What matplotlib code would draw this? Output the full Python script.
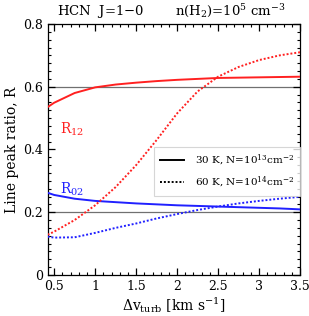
import numpy as np
import matplotlib
matplotlib.use('Agg')
import matplotlib.pyplot as plt
from matplotlib.ticker import MultipleLocator

# turbulent width grid, km/s
dv = [0.42, 0.5, 0.75, 1.0, 1.25, 1.5, 1.75, 2.0, 2.25, 2.5, 2.75, 3.0, 3.25, 3.5]

# 30 K, N=1e13 (solid)
r12_30 = [0.535, 0.549, 0.580, 0.598, 0.607, 0.613, 0.618, 0.622, 0.625, 0.628, 0.629, 0.630, 0.631, 0.632]
r02_30 = [0.262, 0.255, 0.243, 0.236, 0.232, 0.228, 0.225, 0.222, 0.220, 0.218, 0.216, 0.214, 0.212, 0.209]

# 60 K, N=1e14 (dotted)
r12_60 = [0.128, 0.138, 0.175, 0.222, 0.280, 0.350, 0.430, 0.515, 0.585, 0.632, 0.663, 0.685, 0.700, 0.710]
r02_60 = [0.122, 0.119, 0.120, 0.134, 0.150, 0.164, 0.180, 0.194, 0.207, 0.218, 0.228, 0.236, 0.243, 0.249]

ref_lines = [0.6, 0.2]


def main():
    plt.rcParams['font.family'] = ['DejaVu Serif']
    plt.rcParams['mathtext.fontset'] = 'dejavuserif'
    fig = plt.figure(figsize=(3.09, 3.16), dpi=100)
    ax = fig.add_axes([0.154, 0.130, 0.817, 0.794])

    for y in ref_lines:
        ax.axhline(y, color='#707070', lw=0.9, zorder=1)

    ax.plot(dv, r12_30, color='#ff2020', lw=1.4, zorder=3)
    ax.plot(dv, r02_30, color='#2020ff', lw=1.4, zorder=3)
    ax.plot(dv, r12_60, color='#ff2020', lw=1.4, ls=(0, (1, 1)), zorder=3)
    ax.plot(dv, r02_60, color='#2020ff', lw=1.4, ls=(0, (1, 1)), zorder=3)

    # legend
    l1, = ax.plot([], [], color='black', lw=1.4)
    l2, = ax.plot([], [], color='black', lw=1.4, ls=(0, (1, 1)))
    leg = ax.legend([l1, l2], [r'30 K, N=10$^{13}$cm$^{-2}$', r'60 K, N=10$^{14}$cm$^{-2}$'],
                    loc='upper right', bbox_to_anchor=(1.0, 0.51), fontsize=7.5,
                    frameon=True, fancybox=False, handlelength=2.3, handletextpad=1.0,
                    borderpad=0.6, labelspacing=0.6, borderaxespad=0.0)
    leg.get_frame().set_edgecolor('#cccccc')
    leg.get_frame().set_linewidth(0.8)

    ax.text(0.57, 0.45, r'R$_{12}$', color='#ff2020', fontsize=10)
    ax.text(0.57, 0.258, r'R$_{02}$', color='#2020ff', fontsize=10)

    ax.set_xlim(0.42, 3.5)
    ax.set_ylim(0, 0.8)
    ax.xaxis.set_major_locator(MultipleLocator(0.5))
    ax.xaxis.set_minor_locator(MultipleLocator(0.1))
    ax.yaxis.set_major_locator(MultipleLocator(0.2))
    ax.yaxis.set_minor_locator(MultipleLocator(0.025))
    ax.set_xticks([0.5, 1, 1.5, 2, 2.5, 3, 3.5])
    ax.set_xticklabels(['0.5', '1', '1.5', '2', '2.5', '3', '3.5'])
    ax.set_yticks([0, 0.2, 0.4, 0.6, 0.8])
    ax.set_yticklabels(['0', '0.2', '0.4', '0.6', '0.8'])
    ax.tick_params(which='both', direction='in', top=True, right=True, labelsize=9)
    ax.tick_params(which='major', length=5, width=0.9)
    ax.tick_params(which='minor', length=2.5, width=0.8)
    for s in ax.spines.values():
        s.set_linewidth(0.9)

    ax.set_xlabel(r'$\Delta$v$_{\rm turb}$ [km s$^{-1}$]', fontsize=10, labelpad=2)
    ax.set_ylabel('Line peak ratio, R', fontsize=10, labelpad=3)

    fig.text(0.185, 0.965, 'HCN  J=1$-$0', fontsize=9.5, va='center')
    fig.text(0.565, 0.965, r'n(H$_2$)=10$^5$ cm$^{-3}$', fontsize=9.5, va='center')

    fig.savefig('out.png', dpi=100)


if __name__ == "__main__":
    main()
